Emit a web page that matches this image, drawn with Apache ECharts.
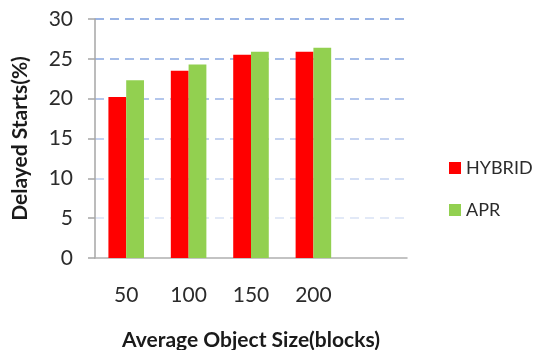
<!DOCTYPE html>
<html>
<head>
<meta charset="utf-8">
<script src="https://cdn.jsdelivr.net/npm/echarts@6/dist/echarts.min.js"></script>
<style>
  html, body { margin: 0; padding: 0; background: #fff; }
  #chart { width: 533px; height: 350px; }
</style>
</head>
<body>
<div id="chart"></div>
<script>
// Object sizes (blocks); the trailing blank slot leaves room on the right of the plot
const categories = ['50', '100', '150', '200', ''];
const hybrid = [20.2, 23.5, 25.5, 25.9, null];
const apr = [22.3, 24.3, 25.9, 26.4, null];
const yTicks = { min: 0, max: 30, interval: 5 };

const font = 'Lato, "Open Sans", sans-serif';
const chart = echarts.init(document.getElementById('chart'), null, { renderer: 'canvas' });

chart.setOption({
  animation: false,
  backgroundColor: '#ffffff',
  grid: { left: 95, top: 19, right: 126, bottom: 92, containLabel: false, outerBoundsMode: 'none' },
  legend: {
    orient: 'vertical',
    left: 444,
    top: 154,
    itemWidth: 12,
    itemHeight: 12,
    itemGap: 24,
    icon: 'rect',
    textStyle: { fontFamily: font, fontSize: 18, color: '#2b2b2b' },
    data: ['HYBRID', 'APR']
  },
  xAxis: {
    type: 'category',
    data: categories,
    name: 'Average Object Size(blocks)',
    nameLocation: 'middle',
    nameGap: 72,
    nameTextStyle: { fontFamily: font, fontSize: 21, fontWeight: 'bold', color: '#1a1a1a' },
    axisLine: { lineStyle: { color: '#b0b0b0', width: 1.5 } },
    axisTick: { show: false },
    axisLabel: { fontFamily: font, fontSize: 21, color: '#2b2b2b', margin: 27 },
    splitLine: { show: false }
  },
  yAxis: {
    type: 'value',
    min: yTicks.min,
    max: yTicks.max,
    interval: yTicks.interval,
    name: 'Delayed Starts(%)',
    nameLocation: 'middle',
    nameGap: 64,
    nameRotate: 90,
    nameTextStyle: { fontFamily: font, fontSize: 21, fontWeight: 'bold', color: '#1a1a1a' },
    axisLine: { show: true, lineStyle: { color: '#a6a6a6', width: 1.5 } },
    axisTick: { show: true, length: 7, lineStyle: { color: '#a6a6a6', width: 1.5 } },
    axisLabel: { fontFamily: font, fontSize: 21, color: '#2b2b2b', margin: 22 },
    splitLine: {
      show: true,
      lineStyle: {
        type: [9, 6],
        width: 2,
        color: ['#ffffff', '#e2e9f7', '#d3def4', '#c5d3f0', '#b3c6ec', '#a6bde8', '#9ab4e5']
      }
    }
  },
  series: [
    {
      name: 'HYBRID',
      type: 'bar',
      data: hybrid,
      barGap: '0%',
      barCategoryGap: '43%',
      itemStyle: { color: '#ff0000' }
    },
    {
      name: 'APR',
      type: 'bar',
      data: apr,
      itemStyle: { color: '#92d050' }
    }
  ]
});
</script>
</body>
</html>
